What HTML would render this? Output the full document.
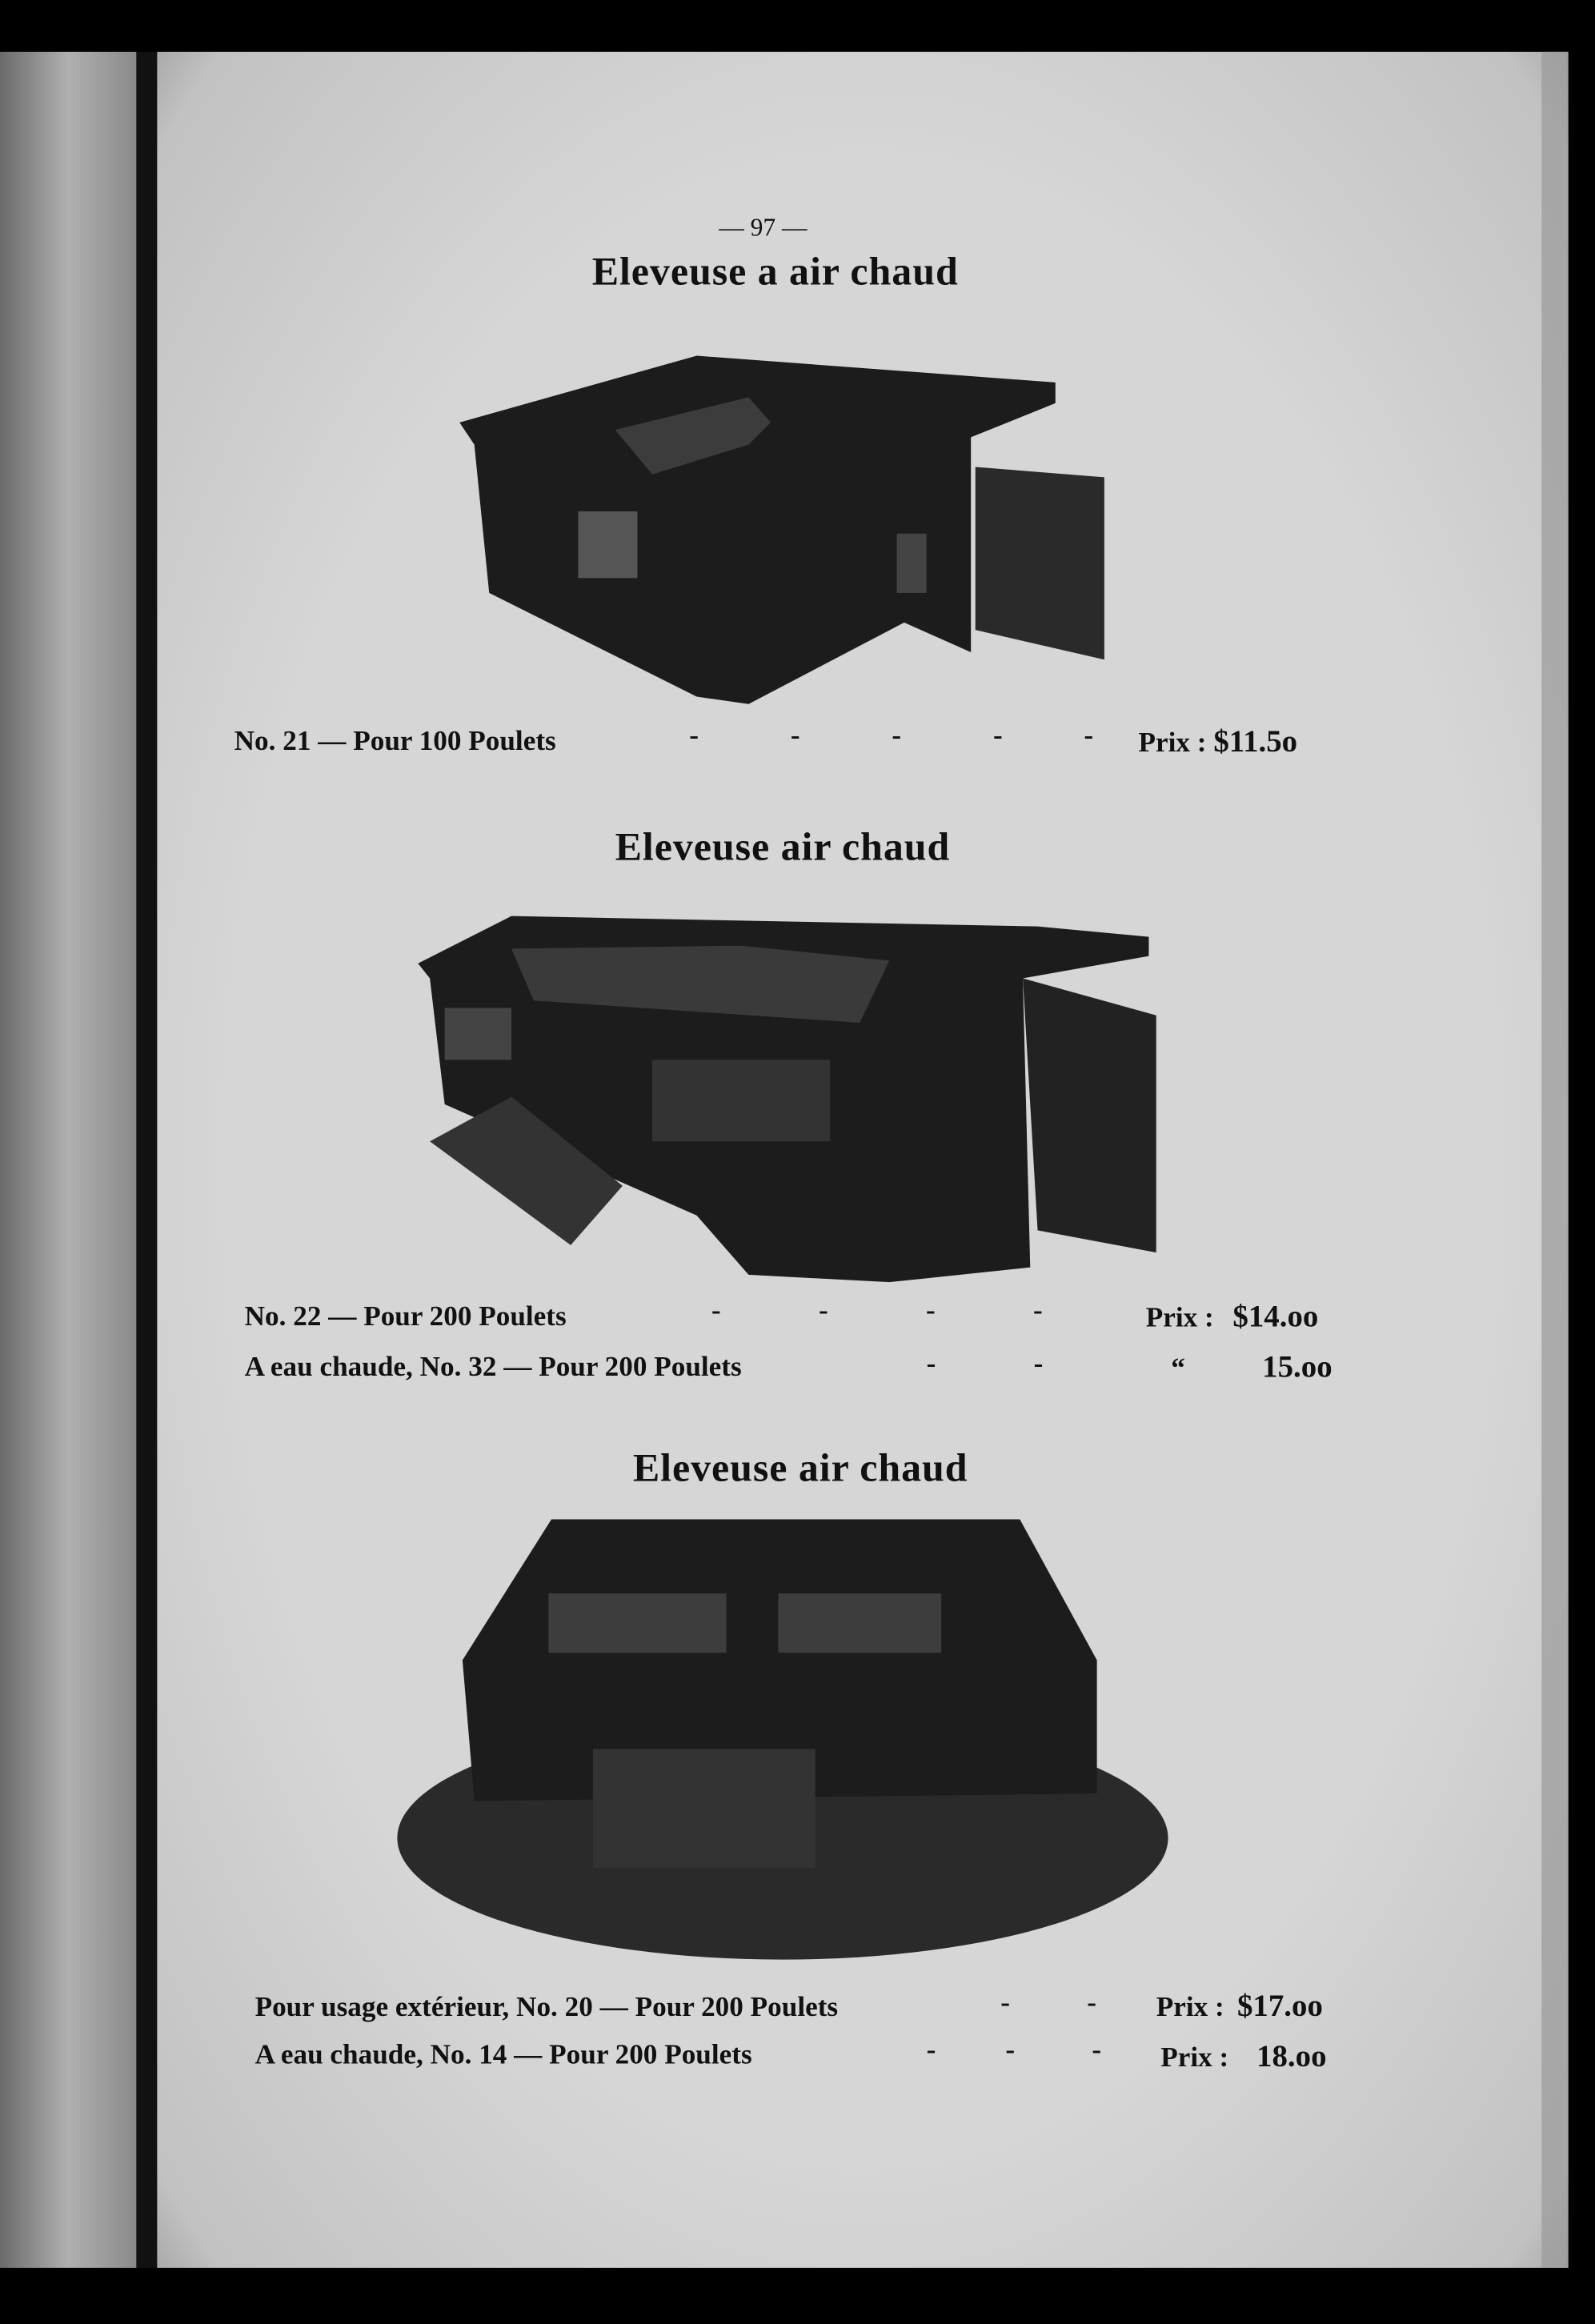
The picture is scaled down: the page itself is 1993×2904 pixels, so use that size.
<!DOCTYPE html>
<html><head><meta charset="utf-8">
<style>
html,body{margin:0;padding:0;background:#000;}
body{width:1993px;height:2904px;overflow:hidden;position:relative;}
#s{position:absolute;left:0;top:0;width:1076px;height:1568px;transform:scale(1.8522);transform-origin:0 0;}
.t{position:absolute;font-family:"Liberation Serif",serif;color:#111;white-space:nowrap;}
.h{font-weight:bold;font-size:27px;letter-spacing:0.5px;}
.l{font-size:19px;font-weight:bold;}
</style></head><body>
<div id="s">
<svg width="1076" height="1568" style="position:absolute;left:0;top:0">
<defs>
<linearGradient id="lg" x1="0" x2="1" y1="0" y2="0">
<stop offset="0" stop-color="#6a6a6a"/><stop offset="0.5" stop-color="#b0b0b0"/><stop offset="1" stop-color="#8a8a8a"/></linearGradient>
<radialGradient id="pg" cx="0.5" cy="0.5" r="0.75">
<stop offset="0.6" stop-color="#d6d6d6"/><stop offset="0.9" stop-color="#c2c2c2"/><stop offset="1" stop-color="#8a8a8a"/></radialGradient>
</defs>
<rect x="0" y="0" width="1076" height="1568" fill="#000"/>
<rect x="0" y="35" width="92" height="1495" fill="url(#lg)"/>
<rect x="92" y="35" width="14" height="1495" fill="#111"/>
<rect x="106" y="35" width="952" height="1495" fill="url(#pg)"/>
<rect x="1040" y="35" width="18" height="1495" fill="#9a9a9a" opacity="0.7"/>
<!-- image 1 -->
<g fill="#1c1c1c">
<polygon points="310,285 470,240 712,258 712,272 655,295 655,440 610,420 505,475 470,470 330,400 320,300"/>
<polygon points="658,315 745,322 745,445 658,425" fill="#2a2a2a"/>
<polygon points="415,290 505,268 520,285 505,300 440,320" fill="#3c3c3c"/>
<rect x="390" y="345" width="40" height="45" fill="#555"/>
<rect x="605" y="360" width="20" height="40" fill="#444"/>
</g>
<!-- image 2 -->
<g fill="#1c1c1c">
<polygon points="282,650 345,618 700,625 775,632 775,645 690,660 695,855 600,865 505,860 470,820 300,745 290,660"/>
<polygon points="690,660 780,685 780,845 700,830" fill="#222"/>
<polygon points="290,770 345,740 420,800 385,840" fill="#333"/>
<polygon points="345,640 500,638 600,648 580,690 360,675" fill="#3a3a3a"/>
<rect x="300" y="680" width="45" height="35" fill="#444"/>
<rect x="440" y="715" width="120" height="55" fill="#333"/>
</g>
<!-- image 3 -->
<g>
<ellipse cx="528" cy="1240" rx="260" ry="82" fill="#2a2a2a"/>
<polygon points="312,1120 372,1025 688,1025 740,1120 740,1210 320,1215" fill="#1c1c1c"/>
<rect x="370" y="1075" width="120" height="40" fill="#3d3d3d"/>
<rect x="525" y="1075" width="110" height="40" fill="#3d3d3d"/>
<rect x="400" y="1180" width="150" height="80" fill="#333"/>
</g>
</svg>
<div class="t" style="left:485px;top:144px;font-size:17px;">— 97 —</div>
<div class="t h" style="left:0;width:1046px;text-align:center;top:168px;">Eleveuse a air chaud</div>
<div class="t l" style="left:158px;top:490px;">No. 21 — Pour 100 Poulets</div>
<div class="t l" style="left:465px;top:486px;">-<span style="margin-left:62px">-</span><span style="margin-left:62px">-</span><span style="margin-left:62px">-</span><span style="margin-left:55px">-</span></div>
<div class="t l" style="left:768px;top:488px;">Prix : <b style="font-size:21px">$11.5o</b></div>
<div class="t h" style="left:0;width:1056px;text-align:center;top:556px;">Eleveuse air chaud</div>
<div class="t l" style="left:165px;top:878px;">No. 22 — Pour 200 Poulets</div>
<div class="t l" style="left:480px;top:874px;">-<span style="margin-left:66px">-</span><span style="margin-left:66px">-</span><span style="margin-left:66px">-</span></div>
<div class="t l" style="left:773px;top:876px;">Prix : <b style="font-size:21px;margin-left:8px">$14.oo</b></div>
<div class="t l" style="left:165px;top:912px;">A eau chaude, No. 32 — Pour 200 Poulets</div>
<div class="t l" style="left:625px;top:910px;">-<span style="margin-left:66px">-</span></div>
<div class="t l" style="left:790px;top:910px;">“<b style="font-size:21px;margin-left:52px">15.oo</b></div>
<div class="t h" style="left:0;width:1080px;text-align:center;top:975px;">Eleveuse air chaud</div>
<div class="t l" style="left:172px;top:1344px;">Pour usage extérieur, No. 20 — Pour 200 Poulets</div>
<div class="t l" style="left:675px;top:1341px;">-<span style="margin-left:52px">-</span></div>
<div class="t l" style="left:780px;top:1341px;">Prix : <b style="font-size:21px;margin-left:4px">$17.oo</b></div>
<div class="t l" style="left:172px;top:1376px;">A eau chaude, No. 14 — Pour 200 Poulets</div>
<div class="t l" style="left:625px;top:1373px;">-<span style="margin-left:47px">-</span><span style="margin-left:52px">-</span></div>
<div class="t l" style="left:783px;top:1375px;">Prix : <b style="font-size:21px;margin-left:14px">18.oo</b></div>
</div>
</body></html>
